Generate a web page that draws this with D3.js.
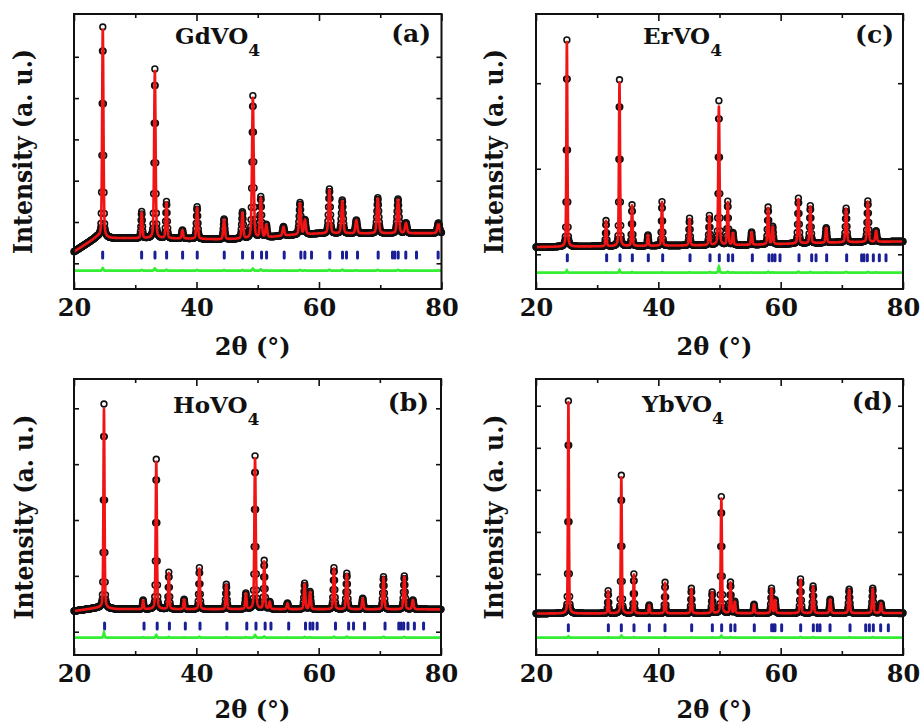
<!DOCTYPE html>
<html>
<head>
<meta charset="utf-8">
<script src="https://cdn.jsdelivr.net/npm/d3@7"></script>
<style>
  html, body { margin: 0; padding: 0; background: #fff; }
  svg { display: block; }
  text { font-family: "DejaVu Serif", serif; font-weight: bold; fill: #111; }
</style>
</head>
<body>
<svg id="chart" width="923" height="727"></svg>
<script>
// Rietveld refinement plots for four REVO4 samples (2x2 grid)
// obs = open circles, calc = red line, Bragg positions = blue ticks, difference = green line

const X_TICKS = [20, 40, 60, 80];
const X_MINOR = [30, 50, 70];

// peaks: [2theta, observed top, calculated top] (a.u.)
const peaksA = [
  [24.7, 5721, 5660], [31.05, 1249, 1230], [33.2, 4704, 4650], [35.1, 1491, 1470],
  [37.7, 806, 800], [40.1, 1370, 1350], [44.5, 1073, 1060], [47.5, 1235, 1220],
  [49.2, 4050, 4000], [50.5, 1598, 1570], [51.4, 927, 920], [54.2, 886, 880],
  [56.9, 1467, 1450], [57.7, 1048, 1040], [61.7, 1799, 1780], [63.8, 1532, 1510],
  [66.1, 1048, 1040], [69.6, 1588, 1570], [72.9, 1557, 1540], [74.2, 976, 970],
  [79.5, 976, 970]
];
const backgroundA = [[20, 280], [23.8, 640], [26, 610], [38, 600], [44, 580], [50, 600], [55, 680], [60, 720], [80, 730]];
const braggA = [24.68, 31.04, 33.22, 35.12, 37.73, 40.12, 44.53, 47.52, 49.15, 50.62, 51.44, 54.32,
  57.04, 57.69, 58.78, 61.77, 63.84, 64.49, 66.29, 69.66, 72.0, 72.38, 72.93, 74.17, 75.92, 79.45];
const yTicksA = [0, 1000, 2000, 3000, 4000, 5000];
const yDomainA = [-622, 6036];

const peaksB = [
  [24.9, 4077, 3990], [31.3, 568, 560], [33.45, 3087, 3040], [35.5, 1064, 1050],
  [38.0, 580, 575], [40.5, 1146, 1130], [44.9, 849, 840], [48.1, 688, 680],
  [49.6, 3146, 3100], [51.1, 1271, 1250], [52.0, 532, 530], [54.9, 514, 510],
  [57.7, 867, 855], [58.6, 716, 710], [62.5, 1146, 1130], [64.6, 1046, 1030],
  [67.2, 598, 595], [70.6, 985, 970], [74.0, 997, 985], [75.4, 568, 565]
];
const backgroundB = [[20, 370], [24, 430], [27, 405], [80, 400]];
const braggB = [25.0, 31.45, 33.6, 35.6, 38.2, 40.6, 45.0, 48.25, 49.75, 51.25, 52.2, 55.1,
  57.85, 58.6, 59.05, 59.75, 62.75, 64.9, 65.7, 67.5, 70.85, 73.1, 73.5, 73.9, 74.6, 75.65, 77.15];
const yTicksB = [0, 1000, 2000, 3000, 4000];
const yDomainB = [-417, 4525];

const peaksC = [
  [25.05, 2506, 2480], [31.45, 393, 390], [33.65, 2039, 2010], [35.7, 577, 570],
  [38.3, 226, 225], [40.6, 615, 610], [45.1, 421, 415], [48.35, 451, 445],
  [49.9, 1793, 1726], [51.35, 615, 605], [52.2, 249, 245], [55.25, 261, 258],
  [57.95, 550, 540], [58.7, 323, 320], [62.9, 655, 645], [64.85, 568, 560],
  [67.45, 311, 308], [70.7, 538, 530], [74.25, 623, 615], [75.6, 273, 270]
];
const backgroundC = [[20, 85], [40, 100], [55, 110], [70, 140], [80, 150]];
const braggC = [25.12, 31.55, 33.73, 35.75, 38.36, 40.71, 45.18, 48.45, 49.97, 51.44, 52.15, 55.37,
  58.09, 58.64, 59.07, 59.89, 63.0, 65.07, 65.78, 67.52, 70.79, 73.24, 73.62, 74.17, 75.15, 76.13, 77.22];
const yTicksC = [0, 1000, 2000];
const yDomainC = [-406, 2809];

const peaksD = [
  [25.3, 5113, 5080], [31.8, 602, 595], [33.95, 3346, 3300], [36.0, 999, 985],
  [38.5, 262, 260], [41.1, 801, 790], [45.4, 659, 650], [48.8, 564, 558],
  [50.3, 2837, 2790], [51.8, 801, 790], [52.5, 340, 335], [55.65, 278, 275],
  [58.5, 659, 650], [59.1, 380, 375], [63.25, 880, 865], [65.3, 713, 700],
  [68.1, 397, 392], [71.2, 635, 625], [75.05, 659, 648], [76.4, 302, 300]
];
const backgroundD = [[20, 60], [80, 70]];
const braggD = [25.29, 31.83, 33.95, 36.02, 38.53, 41.09, 45.45, 48.83, 50.35, 51.83, 52.53, 55.69,
  58.53, 58.8, 59.07, 60.16, 63.27, 65.34, 65.99, 66.43, 68.07, 71.34, 73.9, 74.5, 75.15, 76.35, 77.6];
const yTicksD = [0, 1000, 2000, 3000, 4000, 5000];
const yDomainD = [-927, 5636];

const ETA = 0.35;          // pseudo-Voigt Lorentz fraction
const OBS_STEP = 0.05;
const CALC_STEP = 0.01;

const panels = [
  { title: 'GdVO', tag: '(a)', peaks: peaksA, bg: backgroundA, bragg: braggA, yTicks: yTicksA, yDomain: yDomainA,
    fwhm: [0.24, 0.4], braggLevel: 201, diffLevel: -179,
    box: { x: 74, y: 14, w: 367.5, h: 275 }, titleX: 175, titleY: 43.5, tagX: 431, tagY: 42, yLabelX: 32, xLabelY: 355 },
  { title: 'ErVO', tag: '(c)', peaks: peaksC, bg: backgroundC, bragg: braggC, yTicks: yTicksC, yDomain: yDomainC,
    fwhm: [0.18, 0.3], braggLevel: -40, diffLevel: -215,
    box: { x: 536, y: 14, w: 367, h: 275 }, titleX: 643, titleY: 44.3, tagX: 894, tagY: 42.7, yLabelX: 503, xLabelY: 355 },
  { title: 'HoVO', tag: '(b)', peaks: peaksB, bg: backgroundB, bragg: braggB, yTicks: yTicksB, yDomain: yDomainB,
    fwhm: [0.2, 0.32], braggLevel: 102, diffLevel: -107,
    box: { x: 74, y: 379, w: 367, h: 276 }, titleX: 173, titleY: 413, tagX: 429, tagY: 410.7, yLabelX: 33, xLabelY: 718 },
  { title: 'YbVO', tag: '(d)', peaks: peaksD, bg: backgroundD, bragg: braggD, yTicks: yTicksD, yDomain: yDomainD,
    fwhm: [0.17, 0.28], braggLevel: -278, diffLevel: -516,
    box: { x: 536, y: 379, w: 367, h: 276 }, titleX: 642, titleY: 411.7, tagX: 893, tagY: 410, yLabelX: 503, xLabelY: 718 }
];

const svg = d3.select('#chart');

function drawPanel(p) {
  const g = svg.append('g');
  const { x: bx, y: by, w: bw, h: bh } = p.box;

  const x = d3.scaleLinear().domain([20, 80]).range([bx, bx + bw]);
  const y = d3.scaleLinear().domain(p.yDomain).range([by + bh, by]);
  const bg = d3.scaleLinear().domain(p.bg.map(d => d[0])).range(p.bg.map(d => d[1])).clamp(true);
  const fwhm = d3.scaleLinear().domain([20, 80]).range(p.fwhm);

  // sum of pseudo-Voigt peaks on top of the background; col 1 = obs, col 2 = calc
  const profile = (t, col) => {
    let v = bg(t);
    for (const pk of p.peaks) {
      const d = t - pk[0];
      if (Math.abs(d) > 5) continue;
      const z = (d / fwhm(pk[0])) ** 2;
      v += (pk[col] - bg(pk[0])) * (ETA / (1 + 4 * z) + (1 - ETA) * Math.exp(-4 * Math.LN2 * z));
    }
    return v;
  };

  const obs = d3.range(0, Math.round(60 / OBS_STEP) + 1).map(i => {
    const t = 20 + i * OBS_STEP;
    return [t, profile(t, 1), profile(t, 2)];
  });
  const calc = d3.range(0, Math.round(60 / CALC_STEP) + 1).map(i => {
    const t = 20 + i * CALC_STEP;
    return [t, profile(t, 2)];
  });

  // observed points
  g.append('g').selectAll('circle').data(obs).join('circle')
    .attr('cx', d => x(d[0])).attr('cy', d => y(d[1]))
    .attr('r', 2.9).attr('fill', 'none')
    .attr('stroke', '#111').attr('stroke-width', 1.6);

  // calculated
  g.append('path').datum(calc)
    .attr('fill', 'none').attr('stroke', '#f01414').attr('stroke-width', 2.6)
    .attr('stroke-linejoin', 'round')
    .attr('d', d3.line().x(d => x(d[0])).y(d => y(d[1])));

  // Bragg positions
  g.append('g').selectAll('line').data(p.bragg).join('line')
    .attr('x1', d => x(d)).attr('x2', d => x(d))
    .attr('y1', y(p.braggLevel) - 3).attr('y2', y(p.braggLevel) + 3)
    .attr('stroke', '#1b1f95').attr('stroke-width', 3).attr('stroke-linecap', 'round');

  // difference
  g.append('path').datum(obs)
    .attr('fill', 'none').attr('stroke', '#33ee33').attr('stroke-width', 2.8)
    .attr('d', d3.line().x(d => x(d[0])).y(d => y(p.diffLevel + d[1] - d[2])));

  // axes (ticks inward on all four sides)
  const styleAxis = sel => {
    sel.select('.domain').remove();
    sel.selectAll('line').attr('stroke', '#111').attr('stroke-width', 1.6);
    sel.selectAll('text').attr('font-size', 24).attr('fill', '#111');
  };
  g.append('g').attr('transform', `translate(0,${by + bh})`)
    .call(d3.axisBottom(x).tickValues(X_TICKS).tickSize(-7).tickPadding(10).tickFormat(d3.format('d')))
    .call(styleAxis);
  g.append('g').attr('transform', `translate(0,${by + bh})`)
    .call(d3.axisBottom(x).tickValues(X_MINOR).tickSize(-4).tickFormat(''))
    .call(styleAxis);
  g.append('g').attr('transform', `translate(0,${by})`)
    .call(d3.axisTop(x).tickValues(X_TICKS).tickSize(-7).tickFormat(''))
    .call(styleAxis);
  g.append('g').attr('transform', `translate(0,${by})`)
    .call(d3.axisTop(x).tickValues(X_MINOR).tickSize(-4).tickFormat(''))
    .call(styleAxis);
  g.append('g').attr('transform', `translate(${bx},0)`)
    .call(d3.axisLeft(y).tickValues(p.yTicks).tickSize(-5).tickFormat(''))
    .call(styleAxis);
  g.append('g').attr('transform', `translate(${bx + bw},0)`)
    .call(d3.axisRight(y).tickValues(p.yTicks).tickSize(-5).tickFormat(''))
    .call(styleAxis);

  // frame
  g.append('rect')
    .attr('x', bx).attr('y', by).attr('width', bw).attr('height', bh)
    .attr('fill', 'none').attr('stroke', '#111').attr('stroke-width', 2);

  // compound name with subscript
  const t = g.append('text').attr('x', p.titleX).attr('y', p.titleY).attr('font-size', 23);
  t.append('tspan').text(p.title);
  t.append('tspan').attr('dy', 12).attr('font-size', 17).text('4');

  g.append('text').attr('x', p.tagX).attr('y', p.tagY)
    .attr('text-anchor', 'end').attr('font-size', 25).text(p.tag);

  g.append('text')
    .attr('transform', `translate(${p.yLabelX},${by + bh / 2}) rotate(-90)`)
    .attr('text-anchor', 'middle').attr('font-size', 26)
    .attr('textLength', 205).attr('lengthAdjust', 'spacingAndGlyphs')
    .text('Intensity (a. u.)');

  g.append('text')
    .attr('x', bx + bw / 2 - 5).attr('y', p.xLabelY)
    .attr('text-anchor', 'middle').attr('font-size', 24)
    .text('2θ (°)');
}

panels.forEach(drawPanel);
</script>
</body>
</html>
